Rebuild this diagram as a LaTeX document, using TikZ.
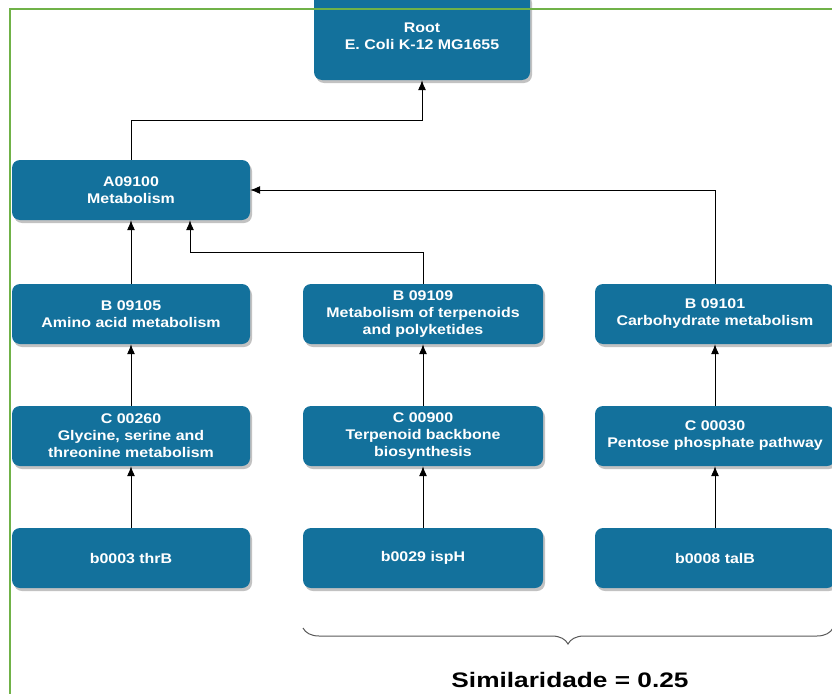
\documentclass[tikz,border=0pt]{standalone}
\usepackage{fontspec}
\setmainfont{Liberation Sans}
\newfontfamily\boxfont[FakeStretch=1.14]{Liberation Sans}
\newfontfamily\simfont[FakeStretch=1.25]{Liberation Sans}
\usetikzlibrary{arrows.meta,decorations.pathreplacing,shadows}
\definecolor{boxblue}{RGB}{19,113,156}
\definecolor{framegreen}{RGB}{112,178,72}
\tikzset{
  box/.style={rectangle, rounded corners=8pt, fill=boxblue, text=white,
    font=\boxfont\fontsize{14}{17}\selectfont\bfseries, align=center,
    minimum width=238pt, minimum height=60pt, inner sep=0pt,
    drop shadow={shadow xshift=2pt, shadow yshift=-3pt, fill=black!40, opacity=0.6}},
  arr/.style={draw=black, line width=0.9pt, -{Latex[length=10pt,width=8pt]}},
}
\begin{document}
\begin{tikzpicture}[x=1pt,y=-1pt]
\useasboundingbox (0,0) rectangle (832,693);
\clip (0,0) rectangle (832,693);
% nodes
\node[box, minimum width=216pt, minimum height=88pt] (root) at (422,36) {Root\\E. Coli K-12 MG1655};
\node[box] (A) at (131,190) {A09100\\Metabolism};
\node[box] (B1) at (131,314) {B 09105\\Amino acid metabolism};
\node[box, minimum width=240pt] (B2) at (423,314) {B 09109\\Metabolism of terpenoids\\and polyketides};
\node[box, minimum width=240pt] (B3) at (715,314) {B 09101\\Carbohydrate metabolism};
\node[box] (C1) at (131,436) {C 00260\\Glycine, serine and\\threonine metabolism};
\node[box, minimum width=240pt] (C2) at (423,436) {C 00900\\Terpenoid backbone\\biosynthesis};
\node[box, minimum width=240pt] (C3) at (715,436) {C 00030\\Pentose phosphate pathway};
\node[box] (D1) at (131,558) {b0003 thrB};
\node[box, minimum width=240pt] (D2) at (423,558) {b0029 ispH};
\node[box, minimum width=240pt] (D3) at (715,558) {b0008 talB};
% connectors
\coordinate (j1) at (0,120);
\coordinate (j2) at (190,252);
\draw[arr] (A.north) -- (A.north |- j1) -| (root.south);
\draw[arr] (B1.north) -- (A.south -| B1.north);
\draw[arr] (B2.north) |- (j2) -- (A.south -| j2);
\draw[arr] (B3.north) |- (A.east);
\draw[arr] (C1.north) -- (B1.south);
\draw[arr] (C2.north) -- (B2.south);
\draw[arr] (C3.north) -- (B3.south);
\draw[arr] (D1.north) -- (C1.south);
\draw[arr] (D2.north) -- (C2.south);
\draw[arr] (D3.north) -- (C3.south);
% brace and label
\coordinate (bl) at (303,628);
\coordinate (br) at (833,628);
\draw[black!65, line width=1pt, decorate, decoration={brace, mirror, amplitude=16pt}] (bl) -- (br);
\node[font=\simfont\fontsize{21}{25}\selectfont\bfseries, text=black, anchor=base, inner sep=0pt] (sim) at (570,687) {Similaridade = 0.25};
% frame
\draw[framegreen, line width=2pt] (10,9) rectangle (860,720);
\end{tikzpicture}
\end{document}
